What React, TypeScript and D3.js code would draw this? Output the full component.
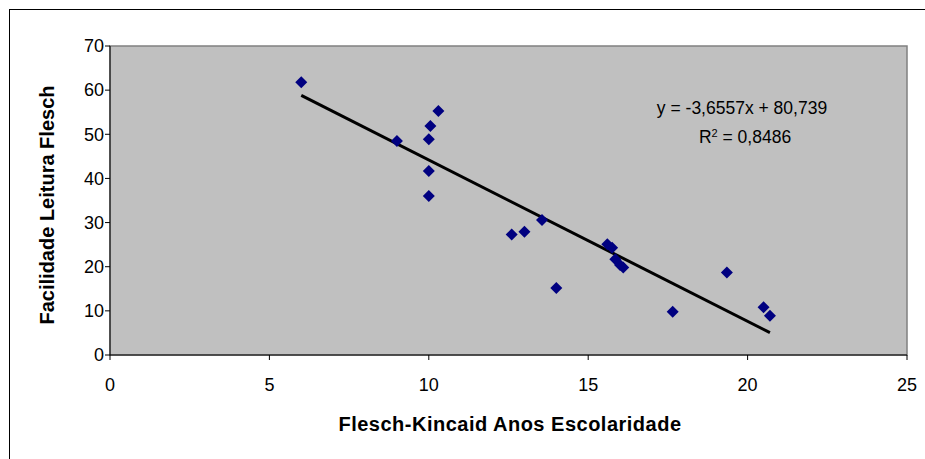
import React from "react";
import * as d3 from "d3";

const xValues = [6.0, 9.0, 10.3, 10.05, 10.0, 10.0, 10.0, 12.6, 13.0, 13.55, 14.0, 15.6, 15.75, 15.85, 16.0, 16.1, 17.65, 19.35, 20.5, 20.7];
const yValues = [61.8, 48.5, 55.3, 51.9, 48.9, 41.7, 36.0, 27.3, 27.9, 30.6, 15.2, 25.1, 24.3, 21.7, 20.4, 19.8, 9.8, 18.7, 10.8, 8.9];
const xTicks = [0, 5, 10, 15, 20, 25];
const yTicks = [0, 10, 20, 30, 40, 50, 60, 70];
const slope = -3.6557;
const intercept = 80.739;
const eqLabel = "y = -3,6557x + 80,739";
const r2Value = "0,8486";
const xTitle = "Flesch-Kincaid Anos Escolaridade";
const yTitle = "Facilidade Leitura Flesch";

const W = 925;
const H = 459;
const left = 110;
const right = 907;
const top = 46;
const bottom = 355;
const font = "'Liberation Sans', Arial, sans-serif";

export default function App() {
  const x = d3.scaleLinear().domain([0, 25]).range([left, right]);
  const y = d3.scaleLinear().domain([0, 70]).range([bottom, top]);
  const xMin = d3.min(xValues) as number;
  const xMax = d3.max(xValues) as number;
  const line = d3.line<number>().x((d) => x(d)).y((d) => y(slope * d + intercept));
  const diamond = (cx: number, cy: number, r: number) =>
    `M${cx},${cy - r}L${cx + r},${cy}L${cx},${cy + r}L${cx - r},${cy}Z`;

  return (
    <div style={{ position: "absolute", left: 0, top: 0 }}>
      <svg width={W} height={H} style={{ display: "block" }}>
        <rect x={0} y={0} width={W} height={H} fill="#ffffff" />
        <rect x={9.5} y={9.5} width={W + 10} height={H + 10} fill="none" stroke="#000" strokeWidth={1} />
        <rect x={left} y={top} width={right - left} height={bottom - top} fill="#C0C0C0" stroke="#808080" strokeWidth={1.5} />
        {/* axes */}
        <line x1={left} y1={top} x2={left} y2={bottom} stroke="#000" strokeWidth={1} />
        <line x1={left} y1={bottom} x2={right} y2={bottom} stroke="#000" strokeWidth={1} />
        {yTicks.map((t) => (
          <g key={"y" + t}>
            <line x1={left - 5} x2={left} y1={y(t)} y2={y(t)} stroke="#000" />
            <text x={left - 6} y={y(t)} dy="0.35em" textAnchor="end" fontFamily={font} fontSize={18} fill="#000">
              {t}
            </text>
          </g>
        ))}
        {xTicks.map((t) => (
          <g key={"x" + t}>
            <line x1={x(t)} x2={x(t)} y1={bottom} y2={bottom + 5} stroke="#000" />
            <text x={x(t)} y={385} dy="0.35em" textAnchor="middle" fontFamily={font} fontSize={18} fill="#000">
              {t}
            </text>
          </g>
        ))}
        {/* trend line */}
        <path d={line([xMin, xMax]) || ""} stroke="#000" strokeWidth={3} fill="none" />
        {/* points */}
        {xValues.map((xv, i) => (
          <path key={i} d={diamond(x(xv), y(yValues[i]), 6)} fill="#000080" />
        ))}
        {/* equation */}
        <text x={742} y={108} dy="0.35em" textAnchor="middle" fontFamily={font} fontSize={17.5} fill="#000">
          {eqLabel}
        </text>
        <text x={745} y={137} dy="0.35em" textAnchor="middle" fontFamily={font} fontSize={17.5} fill="#000">
          R<tspan dy="-6" fontSize={11}>2</tspan>
          <tspan dy="6">{" = " + r2Value}</tspan>
        </text>
        {/* titles */}
        <text x={510} y={424} dy="0.35em" textAnchor="middle" fontFamily={font} fontSize={20} fontWeight="bold" letterSpacing={0.5} fill="#000">
          {xTitle}
        </text>
        <text
          transform={`translate(47,${(82 + 328) / 2}) rotate(-90)`}
          dy="0.35em"
          textAnchor="middle"
          fontFamily={font}
          fontSize={20}
          fontWeight="bold"
          fill="#000"
        >
          {yTitle}
        </text>
      </svg>
    </div>
  );
}
